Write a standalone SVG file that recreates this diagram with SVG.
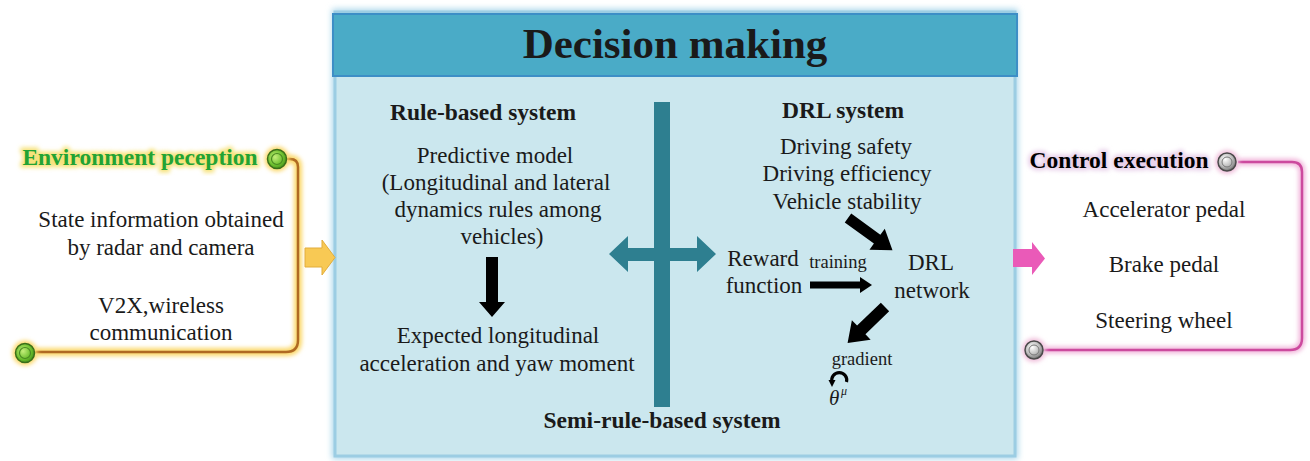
<svg xmlns="http://www.w3.org/2000/svg" width="1310" height="461" viewBox="0 0 1310 461">
  <style>
    .t { font-family: "Liberation Serif", "Times New Roman", serif; fill: #1a1a1a; }
    .reg { font-size: 23px; }
    .bold { font-weight: bold; font-size: 23.5px; }
    .small { font-size: 18.5px; }
    .mid { text-anchor: middle; }
    .teal { fill: #2e7f90; }
    .blk { fill: #000; }
  </style>
  <defs>
    <filter id="glow" x="-20%" y="-20%" width="140%" height="140%">
      <feGaussianBlur stdDeviation="2.2"/>
    </filter>
    <filter id="boxglow" x="-5%" y="-5%" width="110%" height="110%">
      <feGaussianBlur stdDeviation="3"/>
    </filter>
    <radialGradient id="greenBall" cx="0.4" cy="0.4" r="0.7">
      <stop offset="0" stop-color="#c4ee7a"/>
      <stop offset="0.6" stop-color="#6cbf2e"/>
      <stop offset="1" stop-color="#3f8a18"/>
    </radialGradient>
    <radialGradient id="greyBall" cx="0.4" cy="0.35" r="0.7">
      <stop offset="0" stop-color="#ffffff"/>
      <stop offset="0.6" stop-color="#b8b8b8"/>
      <stop offset="1" stop-color="#6a6a6a"/>
    </radialGradient>
  </defs>

  <rect width="1310" height="461" fill="#ffffff"/>

  <!-- Decision making panel -->
  <g id="decision">
    <rect x="332" y="9" width="686" height="450" fill="#a9d6ea" filter="url(#boxglow)"/>
    <rect x="335" y="12" width="680" height="444" fill="#cbe7ee" stroke="#9ccde3" stroke-width="3"/>
    <rect x="333" y="14" width="684" height="62" fill="#4aabc7" stroke="#3d8ec6" stroke-width="2"/>
    <text class="t mid" x="675" y="58" font-size="43px" font-weight="bold" fill="#000">Decision making</text>
  </g>

  <!-- Rule-based branch -->
  <g id="rule-based">
    <text class="t bold mid" x="483" y="120">Rule-based system</text>
    <text class="t reg mid" x="495" y="163">Predictive model</text>
    <text class="t reg mid" x="496" y="190">(Longitudinal and lateral</text>
    <text class="t reg mid" x="498" y="217">dynamics rules among</text>
    <text class="t reg mid" x="502" y="244">vehicles)</text>
    <polygon class="blk" points="486,257 498,257 498,302 505,302 492,317 479,302 486,302"/>
    <text class="t reg mid" x="498" y="343">Expected longitudinal</text>
    <text class="t reg mid" x="497" y="371">acceleration and yaw moment</text>
  </g>

  <!-- Semi-rule-based divider -->
  <g id="semi-rule">
    <rect class="teal" x="654" y="102" width="16" height="305"/>
    <polygon class="teal" points="609,254 628,236 628,248 697,248 697,236 716,254 697,272 697,261 628,261 628,272"/>
    <text class="t bold mid" x="662" y="428">Semi-rule-based system</text>
  </g>

  <!-- DRL branch -->
  <g id="drl">
    <text class="t bold mid" x="843" y="118">DRL system</text>
    <text class="t reg mid" x="846" y="154">Driving safety</text>
    <text class="t reg mid" x="847" y="181">Driving efficiency</text>
    <text class="t reg mid" x="847" y="209">Vehicle stability</text>
    <g transform="translate(848,218) rotate(36)">
      <polygon class="blk" points="0,-5.5 36,-5.5 36,-13 55,0 36,13 36,5.5 0,5.5"/>
    </g>
    <text class="t reg mid" x="763" y="266">Reward</text>
    <text class="t reg mid" x="764" y="293">function</text>
    <text class="t small mid" x="838" y="268">training</text>
    <polygon class="blk" points="810,281.5 860,281.5 860,277 872,285 860,293 860,288.5 810,288.5"/>
    <text class="t reg mid" x="931" y="270">DRL</text>
    <text class="t reg mid" x="932" y="298">network</text>
    <g transform="translate(885,307) rotate(136)">
      <polygon class="blk" points="0,-6 33,-6 33,-13.5 52,0 33,13.5 33,6 0,6"/>
    </g>
    <text class="t small mid" x="862" y="365">gradient</text>
    <!-- update loop mark above the parameter symbol -->
    <path d="M 832 382 A 7.5 7.5 0 1 1 846.5 382" fill="none" stroke="#000" stroke-width="3.2"/>
    <polygon class="blk" points="828.5,380 835.5,380 832,387"/>
    <text class="t" x="829" y="405" font-size="21px" font-style="italic">θ</text>
    <text class="t" x="841" y="395" font-size="12px" font-style="italic">μ</text>
  </g>

  <!-- Environment perception -->
  <g id="perception">
    <path d="M 287 159 H 290 Q 298 159 298 167 V 340 Q 298 352 286 352 H 35" fill="none" stroke="#fbd86a" stroke-width="8" filter="url(#glow)"/>
    <path d="M 287 159 H 290 Q 298 159 298 167 V 340 Q 298 352 286 352 H 35" fill="none" stroke="#b06a22" stroke-width="2.5"/>
    <circle cx="277" cy="159" r="12.5" fill="#fbd86a" filter="url(#glow)"/>
    <circle cx="277" cy="159" r="9.5" fill="url(#greenBall)" stroke="#3a6e1a" stroke-width="1.5"/>
    <circle cx="277" cy="159" r="5.5" fill="none" stroke="#4a8a22" stroke-width="1.2"/>
    <circle cx="25" cy="353" r="12.5" fill="#fbd86a" filter="url(#glow)"/>
    <circle cx="25" cy="353" r="9.5" fill="url(#greenBall)" stroke="#3a6e1a" stroke-width="1.5"/>
    <circle cx="25" cy="353" r="5.5" fill="none" stroke="#4a8a22" stroke-width="1.2"/>
    <text class="t bold mid" x="140" y="165" style="fill:#f6e27a" stroke="#f6e27a" stroke-width="5" filter="url(#glow)">Environment peception</text>
    <text class="t bold mid" x="140" y="165" style="fill:#22a334">Environment peception</text>
    <text class="t reg mid" x="161" y="227">State information obtained</text>
    <text class="t reg mid" x="161" y="255">by radar and camera</text>
    <text class="t reg mid" x="161" y="313">V2X,wireless</text>
    <text class="t reg mid" x="161" y="340">communication</text>
  </g>

  <!-- Control execution -->
  <g id="control">
    <path d="M 1238 162 H 1292 Q 1302 162 1302 172 V 338 Q 1302 350 1290 350 H 1044" fill="none" stroke="#f2b8dc" stroke-width="7" filter="url(#glow)"/>
    <path d="M 1238 162 H 1292 Q 1302 162 1302 172 V 338 Q 1302 350 1290 350 H 1044" fill="none" stroke="#cc4a9e" stroke-width="2.5"/>
    <circle cx="1227" cy="162" r="12" fill="#f0c0dc" filter="url(#glow)"/>
    <circle cx="1227" cy="162" r="9" fill="url(#greyBall)" stroke="#4a4a4a" stroke-width="1.5"/>
    <circle cx="1227" cy="162" r="5" fill="none" stroke="#777" stroke-width="1"/>
    <circle cx="1034" cy="350" r="12" fill="#f0c0dc" filter="url(#glow)"/>
    <circle cx="1034" cy="350" r="9" fill="url(#greyBall)" stroke="#4a4a4a" stroke-width="1.5"/>
    <circle cx="1034" cy="350" r="5" fill="none" stroke="#777" stroke-width="1"/>
    <text class="t bold mid" x="1119" y="168" style="fill:#e8d0ea" stroke="#e8d0ea" stroke-width="5" filter="url(#glow)">Control execution</text>
    <text class="t bold mid" x="1119" y="168" style="fill:#000">Control execution</text>
    <text class="t reg mid" x="1164" y="217">Accelerator pedal</text>
    <text class="t reg mid" x="1164" y="272">Brake pedal</text>
    <text class="t reg mid" x="1164" y="328">Steering wheel</text>
  </g>

  <!-- Flow arrows between stages -->
  <g id="connectors">
    <polygon points="305,248 322,248 322,240 335,257.5 322,275 322,267 305,267" fill="#f8c954" stroke="#e2ad3a" stroke-width="1"/>
    <polygon points="1013,249 1032,249 1032,242 1045,258.5 1032,275 1032,267 1013,267" fill="#ea5ab8"/>
  </g>
</svg>
